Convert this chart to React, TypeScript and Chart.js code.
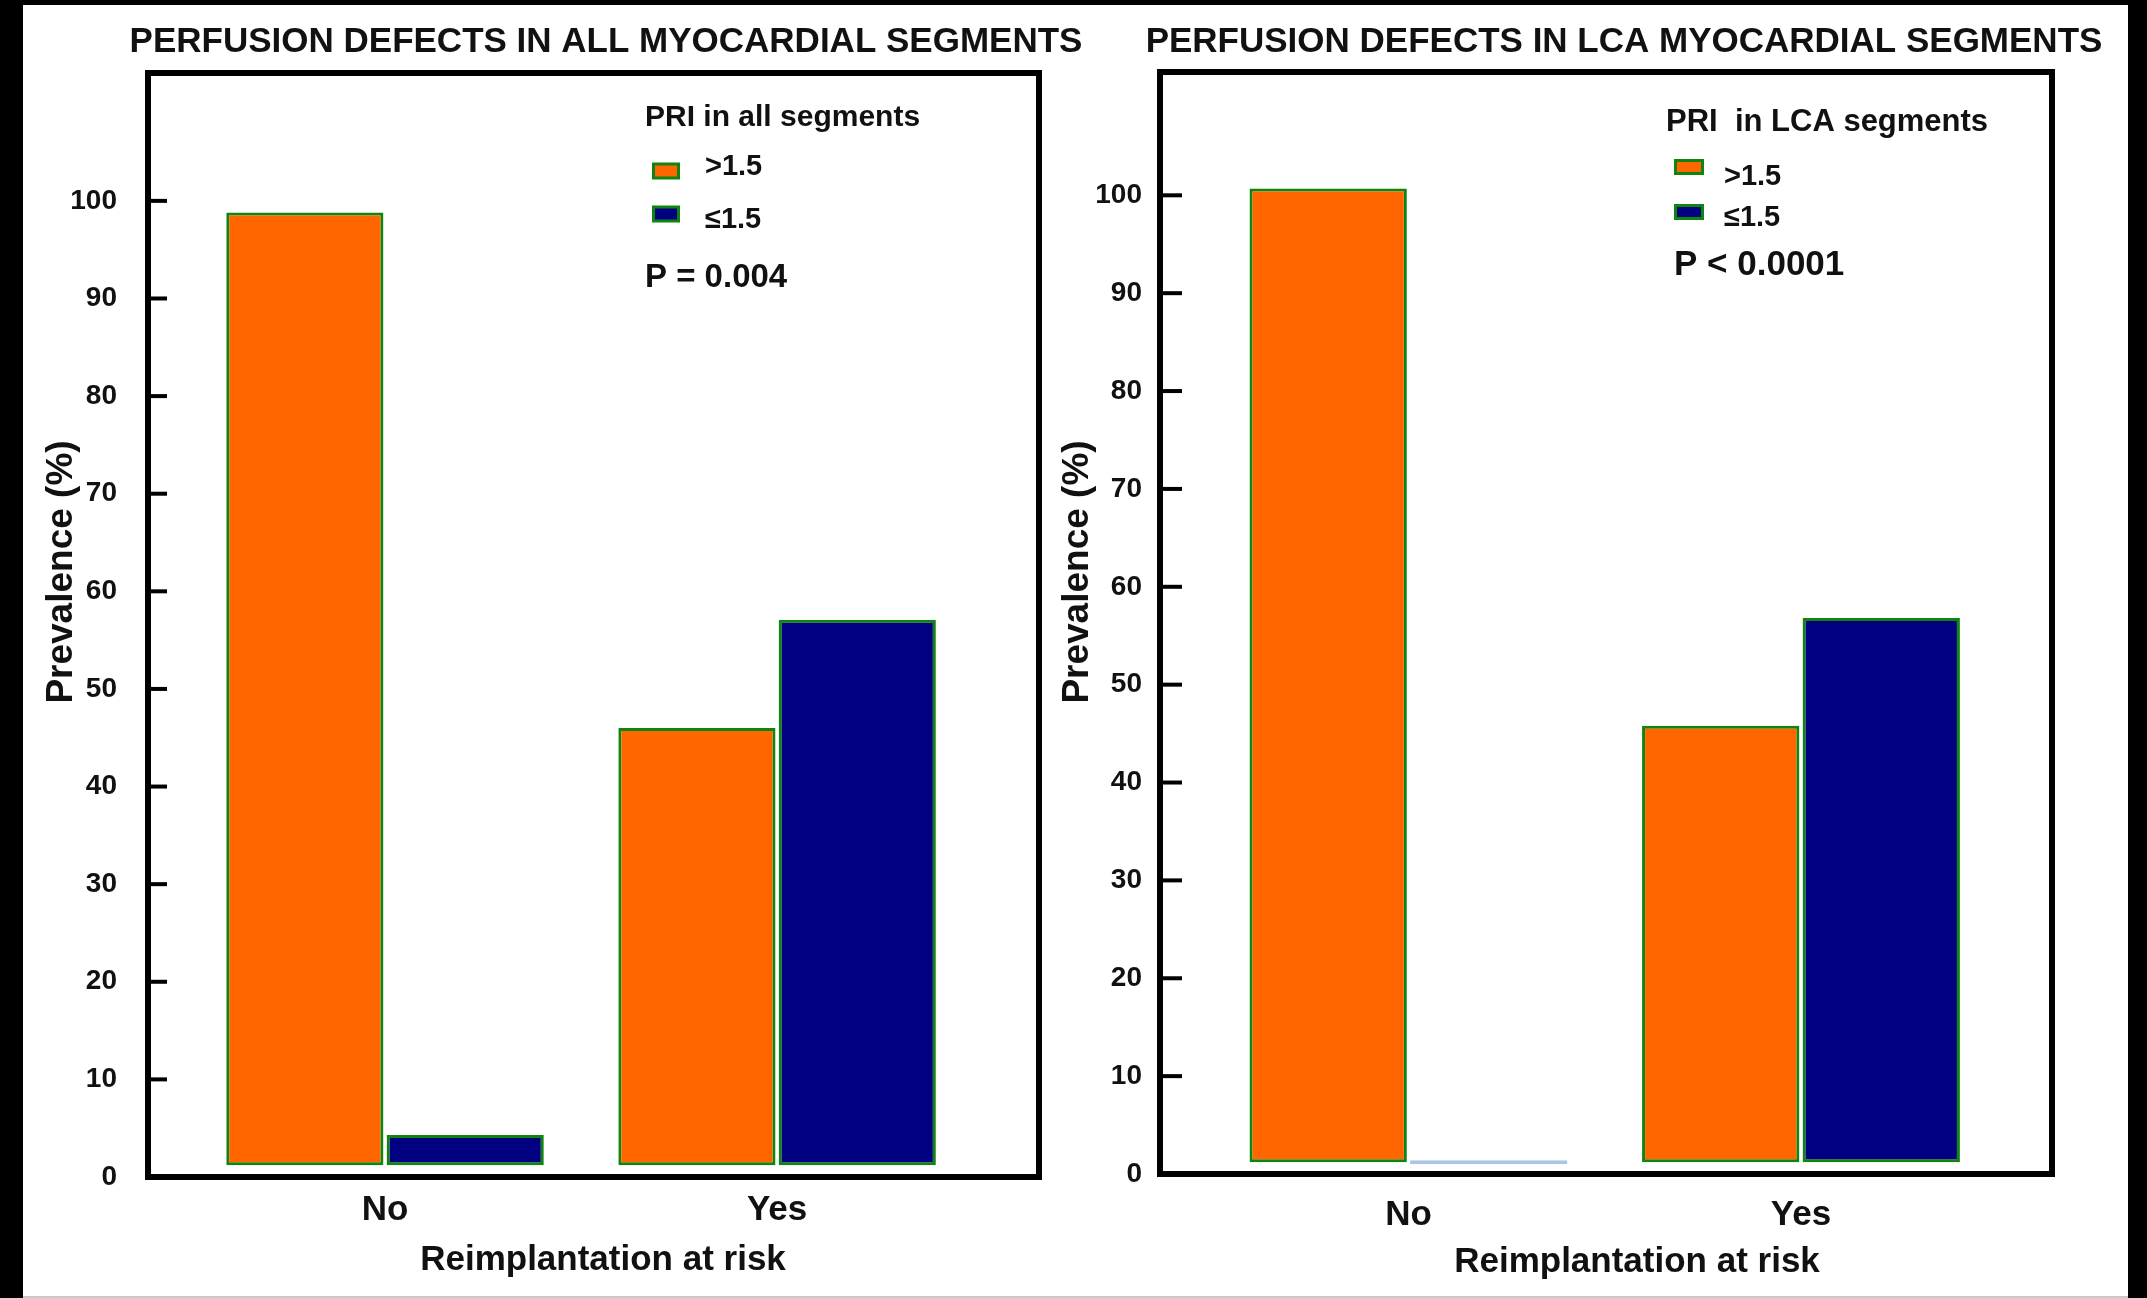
import React, { useEffect, useRef } from "react";
import { Chart, registerables } from "chart.js";

Chart.register(...registerables);

// ---------- data ----------
const CATEGORIES = ["No", "Yes"];
const SERIES_LABELS = [">1.5", "≤1.5"];
const Y_TICKS = [0, 10, 20, 30, 40, 50, 60, 70, 80, 90, 100];
const ALL_HIGH = [98.8, 46.0];
const ALL_LOW = [4.3, 57.1];
const LCA_HIGH = [100.7, 45.8];
const LCA_LOW = [0, 56.8];
const BAR_BASE = 1.2;

// ---------- style ----------
const FONT = "'Liberation Sans', Arial, Helvetica, sans-serif";
const ORANGE = "#FF6600";
const NAVY = "#000080";
const GREEN = "#0e850e";
const ZERO_BLUE = "#a9c6e8";
const PAGE_H = 1298;

type TextPos = { text: string; x: number; y: number; size: number };

type Panel = {
  canvasLeft: number;
  canvasWidth: number;
  areaLeft: number;
  areaRight: number;
  areaTop: number;
  areaBottom: number;
  yMax: number;
  xMin: number;
  xMax: number;
  high: number[];
  low: number[];
  yTickPad: number;
  xTickPad: number;
  tickLen: number;
  legend: any;
  title: TextPos;
  yTitle: TextPos;
  xTitle: TextPos;
};

const LEFT: Panel = {
  canvasLeft: 0,
  canvasWidth: 1110,
  areaLeft: 148,
  areaRight: 1039,
  areaTop: 73,
  areaBottom: 1177,
  yMax: 113.1,
  xMin: -0.6046,
  xMax: 1.668,
  high: ALL_HIGH,
  low: ALL_LOW,
  yTickPad: 31,
  xTickPad: 12,
  tickLen: 19,
  legend: {
    title: { text: "PRI in all segments", dx: 497, dy: 45, size: 30 },
    swatchDx: 504,
    swatchW: 28,
    swatchH: 17,
    textDx: 557,
    rows: [
      { swatchDy: 98, textDy: 94 },
      { swatchDy: 141, textDy: 147 },
    ],
    itemSize: 29,
    p: { text: "P = 0.004", dx: 497, dy: 205, size: 33 },
  },
  title: { text: "PERFUSION DEFECTS IN ALL MYOCARDIAL SEGMENTS", x: 606, y: 42, size: 35 },
  yTitle: { text: "Prevalence (%)", x: 62, y: 572, size: 37 },
  xTitle: { text: "Reimplantation at risk", x: 603, y: 1260, size: 35 },
};

const RIGHT: Panel = {
  canvasLeft: 1044,
  canvasWidth: 1103,
  areaLeft: 1160,
  areaRight: 2052,
  areaTop: 72,
  areaBottom: 1174,
  yMax: 112.6,
  xMin: -0.633,
  xMax: 1.6395,
  high: LCA_HIGH,
  low: LCA_LOW,
  yTickPad: 18,
  xTickPad: 20,
  tickLen: 22,
  legend: {
    title: { text: "PRI  in LCA segments", dx: 506, dy: 50, size: 31 },
    swatchDx: 514,
    swatchW: 30,
    swatchH: 16,
    textDx: 564,
    rows: [
      { swatchDy: 95, textDy: 105 },
      { swatchDy: 140, textDy: 146 },
    ],
    itemSize: 29,
    p: { text: "P < 0.0001", dx: 514, dy: 193, size: 35 },
  },
  title: { text: "PERFUSION DEFECTS IN LCA MYOCARDIAL SEGMENTS", x: 1624, y: 42, size: 35 },
  yTitle: { text: "Prevalence (%)", x: 1078, y: 572, size: 37 },
  xTitle: { text: "Reimplantation at risk", x: 1637, y: 1262, size: 35 },
};

const SERIES_COLORS = [ORANGE, NAVY];

const overlayPlugin = {
  id: "overlay",
  afterDraw(chart: any, _args: any, opts: any) {
    const { ctx, chartArea: a } = chart;
    const p: Panel = opts.panel;
    const off = p.canvasLeft;
    ctx.save();
    // inner tick marks
    const ys = chart.scales.y;
    ctx.strokeStyle = "#000";
    ctx.lineWidth = 4;
    ys.ticks.forEach((t: any) => {
      if (t.value === 0) return;
      const py = ys.getPixelForValue(t.value);
      ctx.beginPath();
      ctx.moveTo(a.left, py);
      ctx.lineTo(a.left + p.tickLen, py);
      ctx.stroke();
    });
    // frame
    ctx.lineWidth = 6;
    ctx.strokeRect(a.left, a.top, a.right - a.left, a.bottom - a.top);

    // legend
    const lg = p.legend;
    ctx.fillStyle = "#111";
    ctx.textBaseline = "middle";
    ctx.textAlign = "left";
    ctx.font = `bold ${lg.title.size}px ${FONT}`;
    ctx.fillText(lg.title.text, a.left + lg.title.dx, a.top + lg.title.dy);
    lg.rows.forEach((r: any, i: number) => {
      const sx = a.left + lg.swatchDx;
      const sy = a.top + r.swatchDy - lg.swatchH / 2;
      ctx.fillStyle = GREEN;
      ctx.fillRect(sx, sy, lg.swatchW, lg.swatchH);
      ctx.fillStyle = SERIES_COLORS[i];
      ctx.fillRect(sx + 3, sy + 3, lg.swatchW - 6, lg.swatchH - 6);
      ctx.fillStyle = "#111";
      ctx.font = `bold ${lg.itemSize}px ${FONT}`;
      ctx.fillText(SERIES_LABELS[i], a.left + lg.textDx, a.top + r.textDy);
    });
    ctx.font = `bold ${lg.p.size}px ${FONT}`;
    ctx.fillText(lg.p.text, a.left + lg.p.dx, a.top + lg.p.dy);

    // chart title and axis titles
    ctx.textAlign = "center";
    ctx.font = `bold ${p.title.size}px ${FONT}`;
    ctx.fillText(p.title.text, p.title.x - off, p.title.y);
    ctx.font = `bold ${p.xTitle.size}px ${FONT}`;
    ctx.fillText(p.xTitle.text, p.xTitle.x - off, p.xTitle.y);
    ctx.translate(p.yTitle.x - off, p.yTitle.y);
    ctx.rotate(-Math.PI / 2);
    ctx.font = `bold ${p.yTitle.size}px ${FONT}`;
    ctx.fillText(p.yTitle.text, 0, 0);
    ctx.restore();
  },
};

function buildChart(canvas: HTMLCanvasElement, p: Panel) {
  const yWidth = p.areaLeft - p.canvasLeft;
  const padRight = p.canvasLeft + p.canvasWidth - p.areaRight;
  const xHeight = PAGE_H - p.areaBottom;

  const makeDataset = (vals: number[], idx: number) => ({
    label: SERIES_LABELS[idx],
    data: vals.map((v, i) => ({ x: i, y: Math.max(v, BAR_BASE) })),
    base: BAR_BASE,
    backgroundColor: (c: any) => (vals[c.dataIndex] === 0 ? ZERO_BLUE : SERIES_COLORS[idx]),
    borderColor: (c: any) => (vals[c.dataIndex] === 0 ? ZERO_BLUE : GREEN),
    borderWidth: 3,
    borderSkipped: false,
    minBarLength: 4,
    categoryPercentage: 0.818,
    barPercentage: 0.98,
  });

  return new Chart(canvas, {
    type: "bar",
    data: {
      datasets: [makeDataset(p.high, 0), makeDataset(p.low, 1)] as any,
    },
    plugins: [overlayPlugin as any],
    options: {
      animation: false,
      responsive: false,
      devicePixelRatio: 1,
      events: [],
      layout: { padding: { left: 0, right: padRight, top: p.areaTop, bottom: 0 } },
      plugins: {
        legend: { display: false },
        tooltip: { enabled: false },
        title: { display: false },
        overlay: { panel: p },
      } as any,
      scales: {
        x: {
          type: "linear",
          offset: false,
          min: p.xMin,
          max: p.xMax,
          grid: { display: false, drawTicks: false, offset: false },
          border: { display: false },
          afterBuildTicks: (s: any) => {
            s.ticks = CATEGORIES.map((_, i) => ({ value: i }));
          },
          afterFit: (s: any) => {
            s.height = xHeight;
          },
          ticks: {
            callback: (_v: any, i: number) => CATEGORIES[i],
            color: "#111",
            font: { family: FONT, size: 35, weight: "bold" },
            padding: p.xTickPad,
            maxRotation: 0,
            autoSkip: false,
          },
        },
        y: {
          type: "linear",
          min: 0,
          max: p.yMax,
          grid: { display: false, drawTicks: false },
          border: { display: false },
          afterBuildTicks: (s: any) => {
            s.ticks = Y_TICKS.map((v) => ({ value: v }));
          },
          afterFit: (s: any) => {
            s.width = yWidth;
          },
          ticks: {
            color: "#111",
            font: { family: FONT, size: 28, weight: "bold" },
            padding: p.yTickPad,
            autoSkip: false,
          },
        },
      },
    } as any,
  });
}

export default function App() {
  const leftRef = useRef<HTMLCanvasElement>(null);
  const rightRef = useRef<HTMLCanvasElement>(null);

  useEffect(() => {
    const c1 = buildChart(leftRef.current!, LEFT);
    const c2 = buildChart(rightRef.current!, RIGHT);
    return () => {
      c1.destroy();
      c2.destroy();
    };
  }, []);

  return (
    <div
      style={{
        position: "absolute",
        left: 0,
        top: 0,
        width: 2147,
        height: PAGE_H,
        background: "#000",
        overflow: "hidden",
      }}
    >
      <div style={{ position: "absolute", left: 23, top: 5, width: 2105, height: 1291, background: "#fff" }} />
      <div style={{ position: "absolute", left: 23, top: 1296, width: 2105, height: 2, background: "#c8c8c8" }} />
      <canvas
        ref={leftRef}
        width={LEFT.canvasWidth}
        height={PAGE_H}
        style={{ position: "absolute", left: LEFT.canvasLeft, top: 0, width: LEFT.canvasWidth, height: PAGE_H }}
      />
      <canvas
        ref={rightRef}
        width={RIGHT.canvasWidth}
        height={PAGE_H}
        style={{ position: "absolute", left: RIGHT.canvasLeft, top: 0, width: RIGHT.canvasWidth, height: PAGE_H }}
      />
    </div>
  );
}
